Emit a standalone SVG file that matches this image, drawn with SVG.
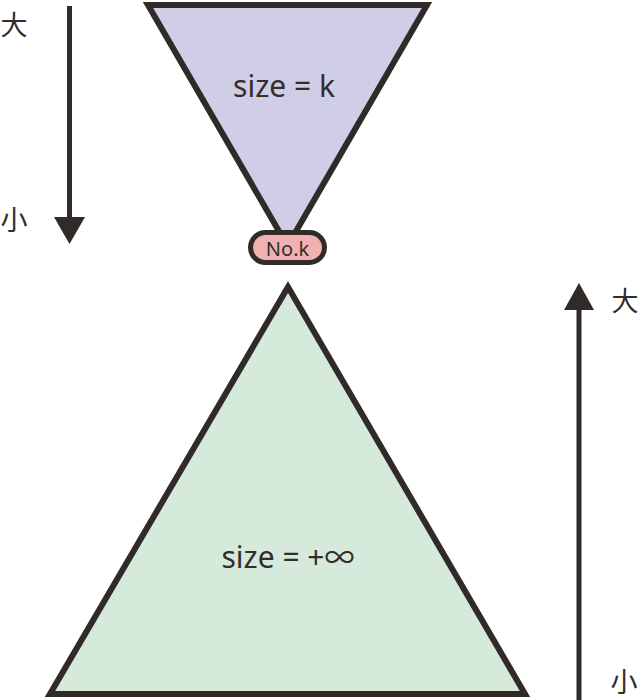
<svg xmlns="http://www.w3.org/2000/svg" width="640" height="700" viewBox="0 0 640 700">
<style>
.tri{stroke:#302a29;stroke-width:6;stroke-linejoin:miter}
.lbl{font-family:"Noto Sans","Noto Sans CJK SC",sans-serif;fill:#332d2c;text-anchor:middle}
.cjk{font-family:"Noto Sans CJK SC",sans-serif;fill:#332d2c;font-size:27px;text-anchor:middle}
.ax{stroke:#302a29;stroke-width:5}
.head{fill:#302a29}
</style>
<rect width="640" height="700" fill="#ffffff"/>
<g id="top-heap">
<polygon class="tri" points="148,5 427,5 287.5,246" fill="#d0cde6"/>
<text class="lbl" x="284" y="97" font-size="30">size = k</text>
</g>
<g id="no-k">
<rect x="250.5" y="232.5" width="74" height="30" rx="15" fill="#f2b1b1" stroke="#302a29" stroke-width="5"/>
<text class="lbl" x="287.5" y="256" font-size="20">No.k</text>
</g>
<g id="bottom-heap">
<polygon class="tri" points="288,287 525,694 50,694" fill="#d5eadb"/>
<text class="lbl" x="288" y="568" font-size="30">size = +∞</text>
</g>
<g id="connectors">
<line class="ax" x1="69.5" y1="6" x2="69.5" y2="220"/>
<polygon class="head" points="54,217 85,217 69.5,244"/>
<line class="ax" x1="579" y1="306" x2="579" y2="700"/>
<polygon class="head" points="564,310 594,310 579,283"/>
</g>
<g id="labels">
<text class="cjk" x="14" y="35">大</text>
<text class="cjk" x="14" y="230">小</text>
<text class="cjk" x="625" y="311">大</text>
<text class="cjk" x="624" y="692">小</text>
</g>
</svg>
